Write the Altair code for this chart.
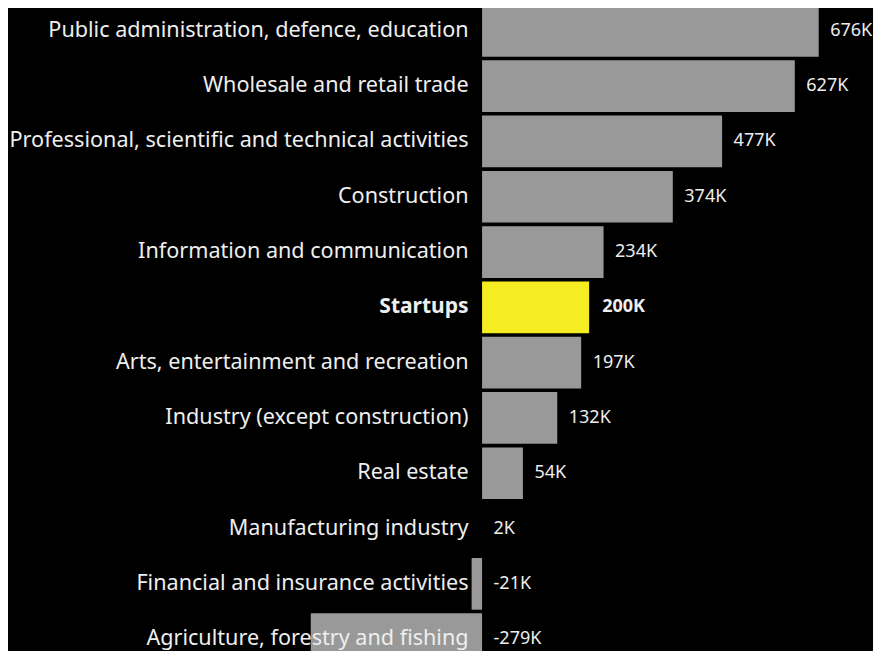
import altair as alt
import pandas as pd

categories = [
    "Public administration, defence, education",
    "Wholesale and retail trade",
    "Professional, scientific and technical activities",
    "Construction",
    "Information and communication",
    "Startups",
    "Arts, entertainment and recreation",
    "Industry (except construction)",
    "Real estate",
    "Manufacturing industry",
    "Financial and insurance activities",
    "Agriculture, forestry and fishing",
]
# bar lengths as drawn in the reference (thousands)
bar_values = [676, 628, 482, 383, 244, 215, 199, 151, 82, 0, -21, -344]
# value labels as printed in the reference
value_labels = ["676K", "627K", "477K", "374K", "234K", "200K", "197K", "132K", "54K", "2K", "-21K", "-279K"]

df = pd.DataFrame({"cat": categories, "v": bar_values, "lab": value_labels})
df["pos"] = df["v"].clip(lower=0)

FONT = "Noto Sans"
TXT = "#EEEEEE"
xs = alt.Scale(domain=[-958, 779], nice=False, zero=False)
ys = alt.Scale(paddingInner=0.065, paddingOuter=0.0325)

base = alt.Chart(df)
y = alt.Y("cat:N", sort=categories, scale=ys, axis=None)

bars = base.mark_bar().encode(
    x=alt.X("v:Q", scale=xs, axis=None),
    x2=alt.datum(0),
    y=y,
    color=alt.condition(alt.datum.cat == "Startups", alt.value("#F6EC22"), alt.value("#999999")),
)

cat_norm = base.transform_filter(alt.datum.cat != "Startups").mark_text(
    align="right", baseline="middle", dx=-13.5, font=FONT, fontSize=21.6, color=TXT
).encode(x=alt.datum(0, scale=xs), y=y, text="cat:N")

cat_bold = base.transform_filter(alt.datum.cat == "Startups").mark_text(
    align="right", baseline="middle", dx=-13.5, font=FONT, fontSize=21, fontWeight="bold", color=TXT
).encode(x=alt.datum(0, scale=xs), y=y, text="cat:N")

val_norm = base.transform_filter(alt.datum.cat != "Startups").mark_text(
    align="left", baseline="middle", dx=11.5, font=FONT, fontSize=18, color=TXT
).encode(x=alt.X("pos:Q", scale=xs), y=y, text="lab:N")

val_bold = base.transform_filter(alt.datum.cat == "Startups").mark_text(
    align="left", baseline="middle", dx=13, font=FONT, fontSize=18, fontWeight="bold", color=TXT
).encode(x=alt.X("pos:Q", scale=xs), y=y, text="lab:N")

chart = alt.layer(bars, cat_norm, cat_bold, val_norm, val_bold).properties(
    width=865, height=663.6,
    background="black",
    padding={"left": -3, "top": -4.8, "right": 3, "bottom": -15.8},
    autosize=alt.AutoSizeParams(type="none"),
).configure_view(stroke=None)

chart.save("out.html", embed_options={"renderer": "svg", "actions": False})
